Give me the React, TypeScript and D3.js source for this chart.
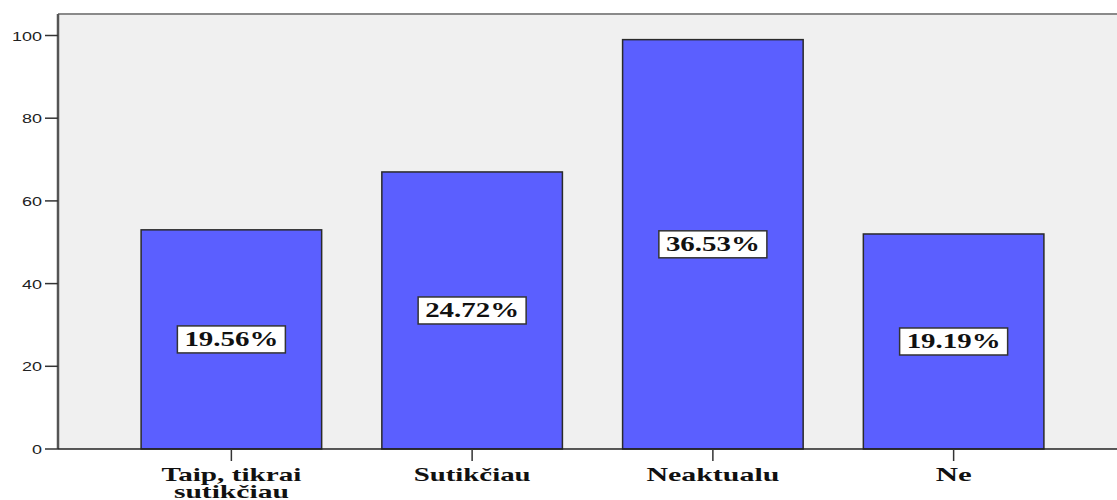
import * as d3 from "d3";
import { useEffect, useRef } from "react";

// counts per answer
const categories = ["Taip, tikrai sutikčiau", "Sutikčiau", "Neaktualu", "Ne"];
const labelLines = [["Taip, tikrai", "sutikčiau"], ["Sutikčiau"], ["Neaktualu"], ["Ne"]];
const counts = [53, 67, 99, 52];
const percentLabels = ["19.56%", "24.72%", "36.53%", "19.19%"];
const yTicks = [0, 20, 40, 60, 80, 100];

const W = 1117;
const H = 500;
const plotLeft = 58;
const plotTop = 14;
const plotBottom = 449;

export const App = () => {
  const ref = useRef<SVGSVGElement>(null);

  useEffect(() => {
    const svg = d3.select(ref.current);
    svg.selectAll("*").remove();

    const x = d3
      .scaleBand()
      .domain(categories)
      .range([111, 1074])
      .paddingInner(0.25)
      .paddingOuter(0.125);
    const y = d3.scaleLinear().domain([0, 105.2]).range([plotBottom, plotTop]);

    // plot background
    svg
      .append("rect")
      .attr("x", plotLeft)
      .attr("y", plotTop)
      .attr("width", W - plotLeft)
      .attr("height", plotBottom - plotTop)
      .attr("fill", "#f0f0f0");

    svg
      .append("line")
      .attr("x1", plotLeft)
      .attr("x2", W)
      .attr("y1", plotTop)
      .attr("y2", plotTop)
      .style("stroke", "#8a8a8a")
      .style("stroke-width", 2);

    // bars
    svg
      .selectAll(".bar")
      .data(counts)
      .enter()
      .append("rect")
      .attr("class", "bar")
      .attr("x", (d, i) => x(categories[i])!)
      .attr("y", (d) => y(d))
      .attr("width", x.bandwidth())
      .attr("height", (d) => y(0) - y(d))
      .attr("fill", "#5b5fff")
      .style("stroke", "#2a2a2a")
      .style("stroke-width", 1.5);

    // percent boxes
    const boxW = 108;
    const boxH = 27;
    const labels = svg
      .selectAll(".pct")
      .data(counts)
      .enter()
      .append("g")
      .attr("class", "pct")
      .attr(
        "transform",
        (d, i) => `translate(${x(categories[i])! + x.bandwidth() / 2},${(y(d) + y(0)) / 2})`
      );
    labels
      .append("rect")
      .attr("x", -boxW / 2)
      .attr("y", -boxH / 2)
      .attr("width", boxW)
      .attr("height", boxH)
      .attr("fill", "white")
      .style("stroke", "#333")
      .style("stroke-width", 1.5);
    labels
      .append("text")
      .attr("text-anchor", "middle")
      .attr("y", 7)
      .attr("textLength", 94)
      .attr("lengthAdjust", "spacingAndGlyphs")
      .style("font-family", "'Liberation Serif', serif")
      .style("font-weight", "bold")
      .style("font-size", "20px")
      .style("fill", "#111")
      .text((d, i) => percentLabels[i]);

    // y axis
    const yAxis = svg.append("g");
    yAxis
      .append("line")
      .attr("x1", plotLeft)
      .attr("x2", plotLeft)
      .attr("y1", plotTop)
      .attr("y2", plotBottom)
      .style("stroke", "#555")
      .style("stroke-width", 2.5);
    yAxis
      .selectAll(".ytick")
      .data(yTicks)
      .enter()
      .append("line")
      .attr("x1", 45)
      .attr("x2", plotLeft)
      .attr("y1", (d) => y(d))
      .attr("y2", (d) => y(d))
      .style("stroke", "#333")
      .style("stroke-width", 1.5);
    yAxis
      .selectAll(".ylab")
      .data(yTicks)
      .enter()
      .append("text")
      .attr("x", 42)
      .attr("y", (d) => y(d) + 5)
      .attr("text-anchor", "end")
      .attr("textLength", (d) => String(d).length * 10)
      .attr("lengthAdjust", "spacingAndGlyphs")
      .style("font-family", "'Liberation Sans', Arial, sans-serif")
      .style("font-size", "13px")
      .style("fill", "#222")
      .text((d) => d);

    // x axis
    svg
      .append("line")
      .attr("x1", plotLeft)
      .attr("x2", W)
      .attr("y1", plotBottom)
      .attr("y2", plotBottom)
      .style("stroke", "#222")
      .style("stroke-width", 1.5);
    svg
      .selectAll(".xtick")
      .data(categories)
      .enter()
      .append("line")
      .attr("x1", (d) => x(d)! + x.bandwidth() / 2)
      .attr("x2", (d) => x(d)! + x.bandwidth() / 2)
      .attr("y1", plotBottom)
      .attr("y2", plotBottom + 12)
      .style("stroke", "#333")
      .style("stroke-width", 1.5);

    const lineWidths: Record<string, number> = {
      "Taip, tikrai": 140,
      sutikčiau: 115,
      Sutikčiau: 117,
      Neaktualu: 133,
      Ne: 36,
    };
    categories.forEach((c, i) => {
      labelLines[i].forEach((line, j) => {
        svg
          .append("text")
          .attr("x", x(c)! + x.bandwidth() / 2)
          .attr("y", 481 + j * 17)
          .attr("text-anchor", "middle")
          .attr("textLength", lineWidths[line])
          .attr("lengthAdjust", "spacingAndGlyphs")
          .style("font-family", "'Liberation Serif', serif")
          .style("font-weight", "bold")
          .style("font-size", "19px")
          .style("fill", "#111")
          .text(line);
      });
    });
  }, []);

  return (
    <div style={{ position: "absolute", left: 0, top: 0 }}>
      <svg ref={ref} width={W} height={H} style={{ display: "block", background: "white" }}></svg>
    </div>
  );
};

export default App;
